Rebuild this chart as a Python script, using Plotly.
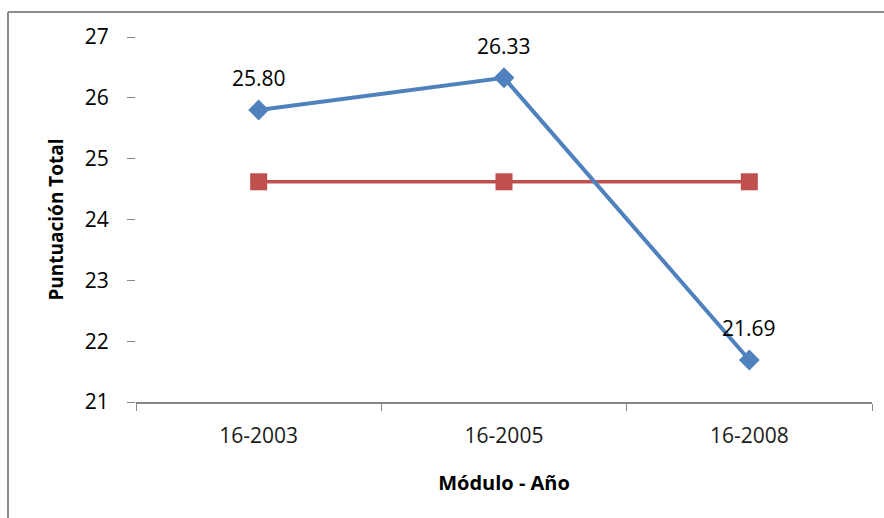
import plotly.graph_objects as go

# Module / year categories and the scores plotted for each
categories = ["16-2003", "16-2005", "16-2008"]
puntuacion = [25.80, 26.33, 21.69]
referencia = [24.62, 24.62, 24.62]
y_ticks = [21, 22, 23, 24, 25, 26, 27]

W, H = 884, 518
L, R, T, B = 136, 12, 37, 116
FONT = "Open Sans"

fig = go.Figure()

fig.add_trace(go.Scatter(
    x=categories, y=referencia, mode="lines+markers",
    line=dict(color="#C0504D", width=3.5),
    marker=dict(symbol="square", size=17, color="#C0504D"),
    hoverinfo="skip", showlegend=False,
))

fig.add_trace(go.Scatter(
    x=categories, y=puntuacion, mode="lines+markers",
    line=dict(color="#4F81BD", width=4),
    marker=dict(symbol="diamond", size=16, color="#4F81BD"),
    hoverinfo="skip", showlegend=False,
))

# value labels above each point of the score series
for c, v in zip(categories, puntuacion):
    fig.add_annotation(
        x=c, y=v, text=f"{v:.2f}", showarrow=False,
        yshift=32, font=dict(family=FONT, size=21, color="#000000"),
    )

# outer chart frame (open on the right and bottom edges)
pw, ph = W - L - R, H - T - B
def px(x):
    return (x - L) / pw
def py(y):
    return (H - B - y) / ph

frame = dict(color="#8C8C8C", width=2)
fig.add_shape(type="line", xref="paper", yref="paper",
              x0=px(8), x1=px(W + 5), y0=py(12), y1=py(12), line=frame)
fig.add_shape(type="line", xref="paper", yref="paper",
              x0=px(8), x1=px(8), y0=py(12), y1=py(H + 5), line=frame)

fig.update_layout(
    width=W, height=H,
    margin=dict(l=L, r=R, t=T, b=B),
    paper_bgcolor="white", plot_bgcolor="white",
    font=dict(family=FONT, size=21, color="#000000"),
)

fig.update_xaxes(
    type="category", range=[-0.5, 2.5],
    showline=True, linecolor="#868686", linewidth=1.5,
    ticks="outside", tickson="boundaries", ticklen=7, tickcolor="#868686",
    showgrid=False, zeroline=False,
    tickfont=dict(family=FONT, size=21, color="#1a1a1a"),
    ticklabelstandoff=14,
    title=dict(text="<b>Módulo - Año</b>", font=dict(family=FONT, size=20), standoff=28),
)

fig.update_yaxes(
    range=[21, 27], tickvals=y_ticks,
    showline=False, showgrid=False, zeroline=False,
    ticks="outside", ticklen=8, tickcolor="#868686", tickwidth=1,
    tickfont=dict(family=FONT, size=21),
    ticklabelstandoff=14,
    title=dict(text="<b>Puntuación Total</b>", font=dict(family=FONT, size=19), standoff=16),
)

fig.write_html("out.html")
